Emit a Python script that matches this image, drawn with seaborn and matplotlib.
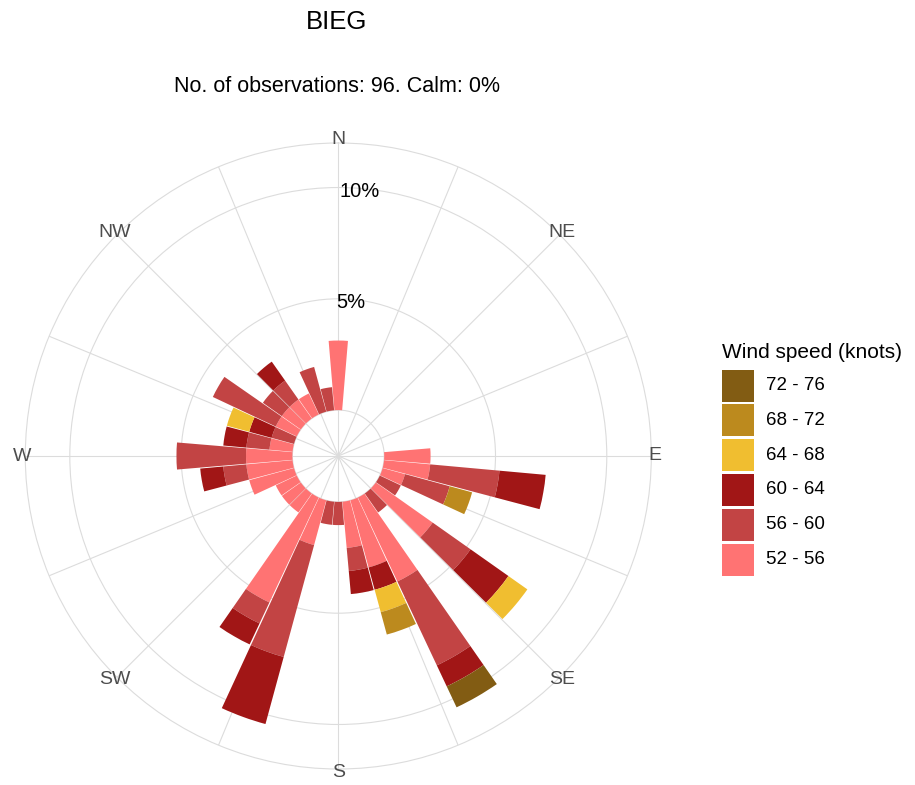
import numpy as np
import matplotlib
matplotlib.use("Agg")
import matplotlib.pyplot as plt
import seaborn as sns
from matplotlib.patches import Rectangle

sns.set_theme(style="white")
plt.rcParams['font.family'] = ['Liberation Sans', 'DejaVu Sans']
plt.rcParams['text.color'] = 'black'

n_obs = 96
directions = list(range(0, 360, 10))

# observation counts per 10 degree sector, one list per speed band (knots)
spd_52_56 = [3, 0, 0, 0, 0, 0, 0, 0, 0, 2,
             2, 1, 0, 3, 0, 4, 3, 2, 0, 0,
             2, 5, 1, 1, 1, 2, 2, 2, 1, 0,
             1, 1, 1, 1, 0, 0]
spd_56_60 = [0, 0, 0, 0, 0, 0, 0, 0, 0, 0,
             3, 2, 1, 2, 1, 4, 0, 1, 1, 1,
             5, 1, 0, 0, 0, 0, 1, 3, 1, 1,
             3, 1, 1, 0, 2, 1]
spd_60_64 = [0, 0, 0, 0, 0, 0, 0, 0, 0, 0,
             2, 0, 0, 2, 0, 1, 1, 1, 0, 0,
             3, 1, 0, 0, 0, 0, 1, 0, 1, 1,
             0, 0, 1, 0, 0, 0]
spd_64_68 = [0, 0, 0, 0, 0, 0, 0, 0, 0, 0,
             0, 0, 0, 1, 0, 0, 1, 0, 0, 0,
             0, 0, 0, 0, 0, 0, 0, 0, 0, 1,
             0, 0, 0, 0, 0, 0]
spd_68_72 = [0, 0, 0, 0, 0, 0, 0, 0, 0, 0,
             0, 1, 0, 0, 0, 0, 1, 0, 0, 0,
             0, 0, 0, 0, 0, 0, 0, 0, 0, 0,
             0, 0, 0, 0, 0, 0]
spd_72_76 = [0, 0, 0, 0, 0, 0, 0, 0, 0, 0,
             0, 0, 0, 0, 0, 1, 0, 0, 0, 0,
             0, 0, 0, 0, 0, 0, 0, 0, 0, 0,
             0, 0, 0, 0, 0, 0]

band_labels = ["52 - 56", "56 - 60", "60 - 64", "64 - 68", "68 - 72", "72 - 76"]
band_counts = [spd_52_56, spd_56_60, spd_60_64, spd_64_68, spd_68_72, spd_72_76]
band_colors = ["#FF7373", "#C24444", "#A11616", "#F0BE30", "#BC8A1E", "#825C13"]

compass = ["N", "NE", "E", "SE", "S", "SW", "W", "NW"]
ring_labels = [5, 10]

W, H = 915, 785
def fx(x):
    return x / W
def fy(y):
    return 1 - y / H

fig = plt.figure(figsize=(W / 100, H / 100), dpi=100)

cx, cy, R = 338.3, 456, 313
ax = fig.add_axes([fx(cx - R), fy(cy + R), 2 * R / W, 2 * R / H], projection="polar")
ax.set_theta_zero_location("N")
ax.set_theta_direction(-1)

off = 46 / 22.3          # calm circle
rmax = 12 + off
ax.set_ylim(0, rmax)

grid_col = "#DCDCDC"
ax.set_xticks(np.deg2rad(np.arange(0, 360, 22.5)))
ax.set_yticks([off, off + 5, off + 10])
ax.set_xticklabels([])
ax.set_yticklabels([])
ax.tick_params(length=0)
ax.grid(True, color=grid_col, linewidth=0.8)
ax.spines["polar"].set_color(grid_col)
ax.spines["polar"].set_linewidth(0.8)
ax.set_axisbelow(True)
ax.set_facecolor("white")

theta = np.deg2rad(directions)
bottom = np.full(len(directions), off)
for lab, counts, col in zip(band_labels, band_counts, band_colors):
    pct = np.array(counts) * 100 / n_obs
    ax.bar(theta, pct, width=np.deg2rad(9.6), bottom=bottom, color=col,
           linewidth=0, zorder=3)
    bottom = bottom + pct

for i, name in enumerate(compass):
    ax.text(np.deg2rad(i * 45), rmax + 0.15, name, ha="center", va="center",
            fontsize=14, color="#4D4D4D", clip_on=False)

for v in ring_labels:
    ax.text(np.deg2rad(4.7), off + v - 0.15, f"{v}%", ha="center", va="center",
            fontsize=14.5, color="black", zorder=5)

fig.text(fx(337), fy(22), "BIEG", ha="center", va="center", fontsize=18.5)
fig.text(fx(337), fy(87), "No. of observations: 96. Calm: 0%", ha="center",
         va="center", fontsize=15.5)

# legend
fig.text(fx(722), fy(352), "Wind speed (knots)", ha="left", va="center", fontsize=15)
for j, (lab, col) in enumerate(zip(band_labels[::-1], band_colors[::-1])):
    top = 369.5 + 34.8 * j
    fig.add_artist(Rectangle((fx(722), fy(top + 32)), 32 / W, 32 / H,
                             transform=fig.transFigure, facecolor=col,
                             edgecolor="none"))
    fig.text(fx(766), fy(top + 16), lab, ha="left", va="center", fontsize=13.5)

fig.savefig("out.png", dpi=100)
